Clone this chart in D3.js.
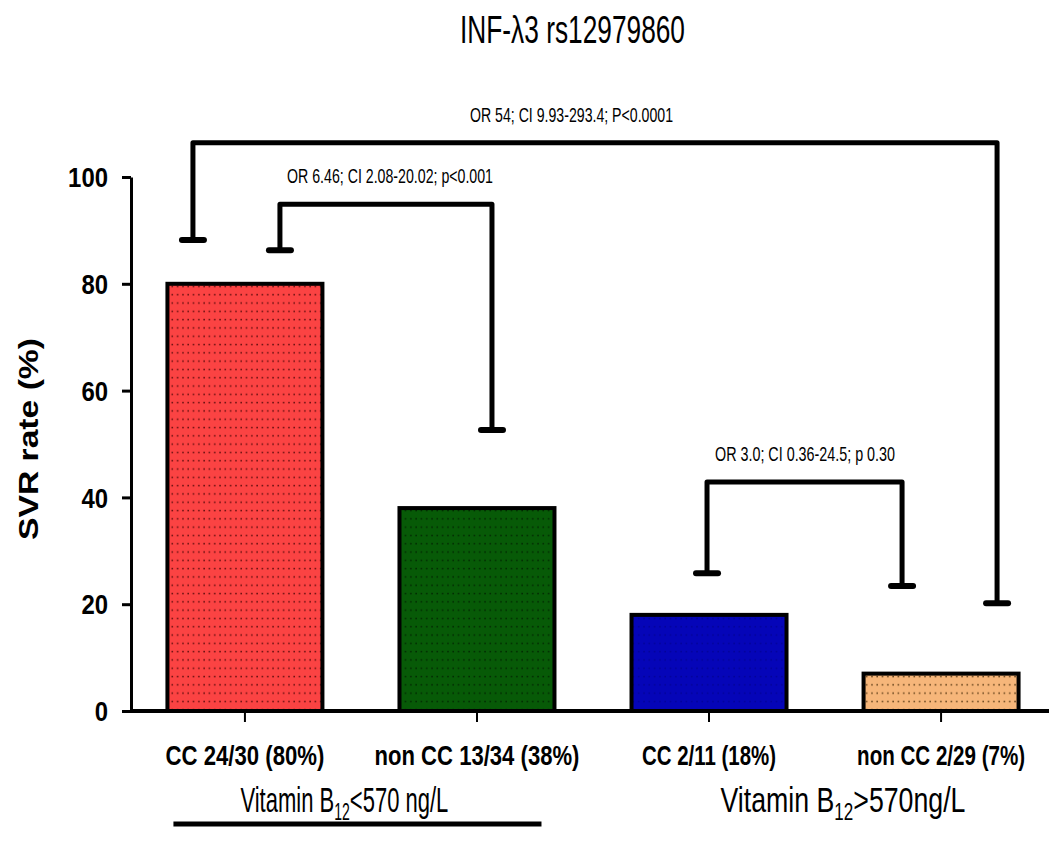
<!DOCTYPE html>
<html lang="en">
<head>
    <meta charset="UTF-8">
    <title>INF-λ3 rs12979860</title>
    <style>
        body { margin: 0; background: #fff; }
        text { font-family: "Liberation Sans Narrow", "Arial Narrow", "Liberation Sans", sans-serif; fill: #000; }
        .axis path, .axis line { stroke: #000; }
    </style>
</head>
<body>
<svg width="1049" height="864"></svg>
<script src="https://d3js.org/d3.v7.min.js"></script>
<script>

    // data
    var categories = ["CC 24/30 (80%)", "non CC 13/34 (38%)", "CC 2/11 (18%)", "non CC 2/29 (7%)"];
    var svrRates = [80, 38, 18, 7];
    var yTicks = [0, 20, 40, 60, 80, 100];
    var groupNames = ["<570 ng/L", ">570ng/L"];
    // comparisons: bar indexes, bracket top and leg ends (in % units)
    var compFrom = [0, 0, 2];
    var compTo = [3, 1, 3];
    var compTop = [106.4, 94.9, 42.9];
    var compFromEnd = [88.2, 86.3, 25.8];
    var compToEnd = [20.2, 52.6, 23.4];
    var compLabels = ["OR 54; CI 9.93-293.4; P<0.0001", "OR 6.46; CI 2.08-20.02; p<0.001", "OR 3.0; CI 0.36-24.5; p 0.30"];

    var barColors = ["#fb4343", "#075a07", "#0505b8", "#f6b67a"];
    var dotColors = ["#3a0000", "#001a00", "#00006a", "#3a2000"];
    var catLabelW = [159, 205, 134, 168];

    var svg = d3.select("svg");

    var x = d3.scaleBand().domain(categories).range([131, 1055])
        .paddingInner(0.332).paddingOuter(0.157);
    var y = d3.scaleLinear().domain([0, 100]).range([711, 177]);

    // squeeze a text horizontally to a given width
    function squeeze(sel, w, tx, ty) {
        sel.each(function(d, i) {
            var nat = this.getComputedTextLength();
            var target = typeof w === "function" ? w(d, i) : w;
            d3.select(this).attr("transform",
                "translate(" + tx + "," + ty + ") scale(" + (target / nat) + ",1)");
        });
    }

    // dotted fill patterns
    var defs = svg.append("defs");
    barColors.forEach(function(c, i) {
        var p = defs.append("pattern")
            .attr("id", "dots" + i)
            .attr("patternUnits", "userSpaceOnUse")
            .attr("width", 5.3).attr("height", 8.3);
        p.append("rect").attr("width", 5.3).attr("height", 8.3).attr("fill", c);
        p.append("rect").attr("x", 2).attr("y", 3.5).attr("width", 1.5).attr("height", 1.5)
            .attr("fill", dotColors[i]).attr("opacity", i == 2 ? 0.45 : 0.8);
    });

    // title
    svg.append("text")
        .attr("x", 460).attr("y", 43)
        .attr("font-size", 38)
        .attr("textLength", 225).attr("lengthAdjust", "spacingAndGlyphs")
        .text("INF-λ3 rs12979860");

    // bars
    svg.selectAll(".bar")
        .data(svrRates)
        .enter().append("rect")
        .attr("class", "bar")
        .attr("x", function(d, i) { return x(categories[i]); })
        .attr("y", function(d) { return y(d); })
        .attr("width", x.bandwidth())
        .attr("height", function(d) { return y(0) - y(d); })
        .attr("fill", function(d, i) { return "url(#dots" + i + ")"; })
        .attr("stroke", "#000")
        .attr("stroke-width", 4);

    // y axis
    var yAxis = svg.append("g")
        .attr("class", "axis")
        .attr("transform", "translate(131,0)")
        .call(d3.axisLeft(y).tickValues(yTicks).tickSize(9).tickSizeOuter(0).tickPadding(14));
    yAxis.select(".domain").attr("stroke-width", 3);
    yAxis.selectAll(".tick line").attr("stroke-width", 3);
    yAxis.selectAll(".tick text")
        .attr("font-size", 27).attr("font-weight", "bold")
        .attr("dy", "0.36em")
        .attr("textLength", function(d) { return String(d).length * 13.3; })
        .attr("lengthAdjust", "spacingAndGlyphs");

    // x axis
    var xAxis = svg.append("g")
        .attr("class", "axis")
        .attr("transform", "translate(0,711)")
        .call(d3.axisBottom(x).tickSize(11).tickSizeOuter(0));
    xAxis.select(".domain").attr("d", "M131,0H1049").attr("stroke-width", 4);
    xAxis.selectAll(".tick line").attr("stroke-width", 2);
    xAxis.selectAll(".tick text")
        .attr("y", 0).attr("dy", 0)
        .attr("font-size", 27).attr("font-weight", "bold")
        .call(squeeze, function(d, i) { return catLabelW[i]; }, 0, 54);

    // y label
    svg.append("text")
        .attr("transform", "translate(38,439) rotate(-90)")
        .attr("text-anchor", "middle")
        .attr("font-family", "'Liberation Sans', Arial, sans-serif")
        .attr("font-size", 27).attr("font-weight", "bold")
        .attr("textLength", 202).attr("lengthAdjust", "spacingAndGlyphs")
        .text("SVR rate (%)");

    // comparison brackets
    var legOffsetFrom = [-52, 35, -2];
    var legOffsetTo = [56, 15, -39];
    var labelX = [470, 287, 715];
    var labelW = [203, 206, 180];
    compLabels.forEach(function(lab, i) {
        var x1 = x(categories[compFrom[i]]) + x.bandwidth() / 2 + legOffsetFrom[i];
        var x2 = x(categories[compTo[i]]) + x.bandwidth() / 2 + legOffsetTo[i];
        svg.append("path")
            .attr("d", "M" + x1 + "," + y(compFromEnd[i]) + "V" + y(compTop[i]) + "H" + x2 + "V" + y(compToEnd[i]))
            .attr("fill", "none").attr("stroke", "#000")
            .attr("stroke-width", 5).attr("stroke-linejoin", "round");
        [[x1, compFromEnd[i]], [x2, compToEnd[i]]].forEach(function(e) {
            svg.append("line")
                .attr("x1", e[0] - 11).attr("x2", e[0] + 11)
                .attr("y1", y(e[1])).attr("y2", y(e[1]))
                .attr("stroke", "#000").attr("stroke-width", 6).attr("stroke-linecap", "round");
        });
        svg.append("text")
            .attr("x", labelX[i]).attr("y", y(compTop[i]) - 21)
            .attr("font-size", 21)
            .attr("textLength", labelW[i]).attr("lengthAdjust", "spacingAndGlyphs")
            .text(lab);
    });

    // group labels: "Vitamin B" + subscript 12 + range
    var groupX = [x(categories[0]) + 73, x(categories[2]) + 89];
    var groupW = [208, 245];
    groupNames.forEach(function(g, i) {
        var t = svg.append("text").attr("font-size", 36);
        t.append("tspan").text("Vitamin B");
        t.append("tspan").text("12").attr("font-size", 23).attr("dy", 8);
        t.append("tspan").text(g).attr("dy", -8);
        t.call(squeeze, groupW[i], groupX[i], 812);
    });

    svg.append("line")
        .attr("x1", x(categories[0]) + 6).attr("x2", x(categories[1]) + x.bandwidth() - 13)
        .attr("y1", 824).attr("y2", 824)
        .attr("stroke", "#000").attr("stroke-width", 5);

</script>
</body>
</html>
